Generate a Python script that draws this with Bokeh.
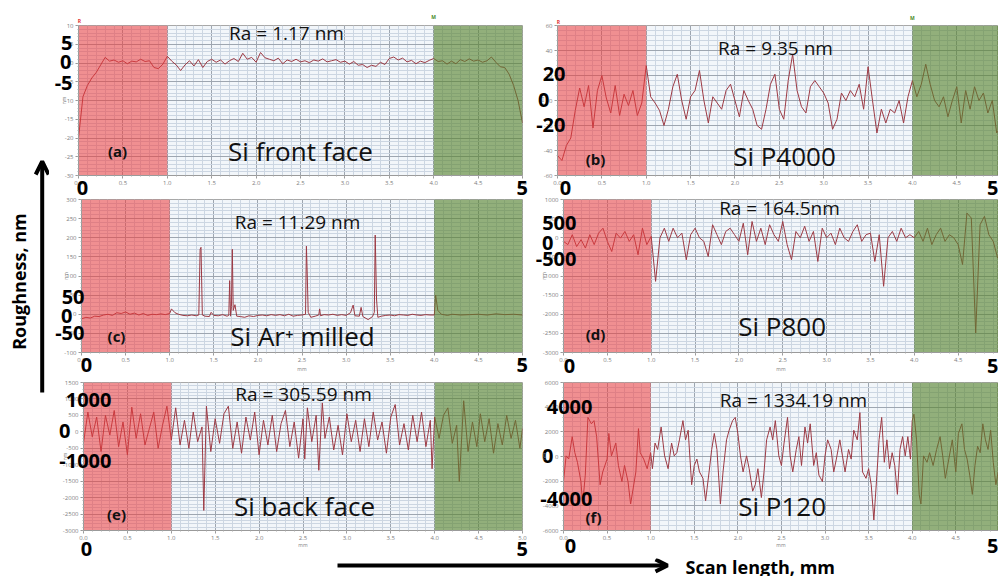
import math
from bokeh.plotting import figure
from bokeh.layouts import column, row
from bokeh.models import (Range1d, Label, LinearAxis, FixedTicker, SingleIntervalTicker,
                          PrintfTickFormatter, Arrow, OpenHead)
from bokeh.embed import file_html
from bokeh.resources import INLINE

# ------------------------------------------------------------------ data
GRID_X = [0.0, 0.05, 0.1, 0.15, 0.2, 0.25, 0.3, 0.35, 0.4, 0.45,
          0.5, 0.55, 0.6, 0.65, 0.7, 0.75, 0.8, 0.85, 0.9, 0.95,
          1.0, 1.05, 1.1, 1.15, 1.2, 1.25, 1.3, 1.35, 1.4, 1.45,
          1.5, 1.55, 1.6, 1.65, 1.7, 1.75, 1.8, 1.85, 1.9, 1.95,
          2.0, 2.05, 2.1, 2.15, 2.2, 2.25, 2.3, 2.35, 2.4, 2.45,
          2.5, 2.55, 2.6, 2.65, 2.7, 2.75, 2.8, 2.85, 2.9, 2.95,
          3.0, 3.05, 3.1, 3.15, 3.2, 3.25, 3.3, 3.35, 3.4, 3.45,
          3.5, 3.55, 3.6, 3.65, 3.7, 3.75, 3.8, 3.85, 3.9, 3.95,
          4.0, 4.05, 4.1, 4.15, 4.2, 4.25, 4.3, 4.35, 4.4, 4.45,
          4.5, 4.55, 4.6, 4.65, 4.7, 4.75, 4.8, 4.85, 4.9, 4.95,
          5.0]

a_y = [-20, -9, -6, -4, -2.5, -0.5, 1.5, 0.5, 0.8, 0.2,
       0.6, -0.2, 0.5, 0.3, 1.0, 0.4, 0.6, -1.2, -1.5, -0.3,
       1.8, 0.5, -0.5, -2.0, -0.5, 0.6, -0.8, 0.9, -1.2, 0.4,
       1.0, 0.2, 0.8, -0.3, 0.6, 1.2, 0.4, 2.6, 1.0, 1.5,
       0.2, 2.8, 1.4, 1.0, 0.6, 1.3, -0.2, 0.8, 0.4, 1.0,
       0.3, 0.6, 0.1, 0.8, 0.5, 1.1, 0.3, 0.6, 0.9, 0.2,
       0.5, -0.3, 0.4, -0.6, -0.4, -1.2, -0.6, -0.9, 0.2, -0.4,
       1.2, 1.6, 0.8, 1.3, 0.3, 0.7, -0.2, 0.5, 0.1, 0.7,
       1.2, 0.4, 0.6, -0.3, 0.5, -0.2, 0.9, 0.4, 1.1, 0.5,
       0.8, 0.2, 0.6, 1.6, 0.2, -1.0, -1.2, -3, -6, -10,
       -16]

b_y = [-44, -48, -36, -30, -8, 10, -5, 12, -22, 8,
       20, 2, -10, 12, -12, 5, -4, 8, -12, -2,
       28, 3, -2, -8, -20, -7, 11, 21, 0, -15,
       3, 8, 24, 0, -18, 3, -2, -7, 8, 13,
       0, -13, 8, 0, -7, -20, -23, -7, 13, 21,
       -7, -15, 16, 37, 8, -5, -10, 11, 16, 11,
       6, -2, -23, -15, 6, 0, 8, 3, 13, -7,
       27, 0, -26, -7, -18, -7, -10, 0, -18, 3,
       16, 3, 13, 29, 13, 0, -5, 3, -13, 0,
       11, -18, 8, -7, 11, 0, 6, -10, 0, -26,
       -20]

c_x = [0.0, 0.05, 0.1, 0.15, 0.2, 0.25, 0.3, 0.35, 0.4, 0.45,
       0.5, 0.55, 0.6, 0.65, 0.7, 0.75, 0.8, 0.85, 0.9, 0.95,
       1.0, 1.02, 1.06, 1.1, 1.15, 1.2, 1.25, 1.3, 1.33, 1.345,
       1.355, 1.37, 1.4, 1.45, 1.47, 1.5, 1.55, 1.6, 1.65, 1.67,
       1.68, 1.69, 1.7, 1.71, 1.72, 1.74, 1.76, 1.8, 1.85, 1.9,
       1.95, 2.0, 2.05, 2.1, 2.15, 2.2, 2.25, 2.3, 2.35, 2.4,
       2.45, 2.5, 2.54, 2.55, 2.56, 2.57, 2.6, 2.65, 2.69, 2.7,
       2.71, 2.75, 2.8, 2.85, 2.9, 2.95, 3.0, 3.05, 3.08, 3.1,
       3.15, 3.17, 3.19, 3.25, 3.3, 3.32, 3.33, 3.345, 3.36, 3.4,
       3.45, 3.5, 3.55, 3.6, 3.65, 3.7, 3.75, 3.8, 3.85, 3.9,
       3.95, 4.0, 4.015, 4.04, 4.08, 4.15, 4.2, 4.3, 4.4, 4.5,
       4.6, 4.7, 4.8, 4.9, 5.0]
c_y = [-12, -8, -10, -5, -6, -2, 0, -3, 4, 2,
       6, 0, 3, -2, 2, -3, 0, -1, 1, -1,
       2, 14, 4, 0, -3, -4, -2, -4, -2, 170,
       175, -2, -5, -6, 5, -3, -4, -1, -5, -3,
       88, -5, 20, 170, 10, 25, -5, -6, -8, -4,
       -6, -3, -2, -4, -1, -3, -1, -4, 0, -5,
       -3, -2, 0, 178, 100, 5, -8, -5, -2, 14,
       -4, -1, -2, 0, -3, -1, -3, 4, 24, -4,
       -5, 18, -6, -14, -6, 5, 207, 40, -8, -5,
       -3, -2, -4, -1, -2, -3, 0, -2, -3, -1,
       -2, -2, 50, 10, 0, -3, 0, -2, -1, 0,
       -2, 1, -1, 0, -2]

d_y = [-95, -180, 80, -230, -50, -270, 80, -180, 120, 250,
       -95, -360, 120, -10, 165, -95, 80, -445, 250, -180,
       35, -1140, 0, 250, -95, 250, 0, 120, -575, 80,
       250, 0, -95, -490, 340, 80, -180, 165, 250, 80,
       -95, 380, -445, 425, -95, 250, -180, 340, 80, -95,
       425, -180, -575, 165, 0, 300, -95, 165, -620, 250,
       0, 120, -180, 250, 0, -95, 165, 340, -95, 80,
       120, -620, 80, -1270, 0, 165, -95, 250, 0, 80,
       0, 165, -95, 250, -180, 80, 250, -95, 80, 0,
       -180, -700, 645, 515, -2490, 340, 560, 80, -95, -530,
       -300]

e_x = [0.0, 0.05, 0.1, 0.15, 0.2, 0.25, 0.3, 0.35, 0.4, 0.45,
       0.5, 0.55, 0.6, 0.65, 0.7, 0.75, 0.8, 0.85, 0.9, 0.95,
       1.0, 1.05, 1.1, 1.15, 1.2, 1.25, 1.3, 1.35, 1.37, 1.4,
       1.45, 1.5, 1.55, 1.6, 1.65, 1.7, 1.75, 1.8, 1.85, 1.9,
       1.95, 2.0, 2.05, 2.1, 2.15, 2.2, 2.25, 2.3, 2.35, 2.4,
       2.45, 2.5, 2.52, 2.55, 2.6, 2.65, 2.68, 2.72, 2.75, 2.8,
       2.85, 2.9, 2.95, 3.0, 3.05, 3.1, 3.15, 3.2, 3.25, 3.3,
       3.35, 3.4, 3.45, 3.5, 3.55, 3.6, 3.65, 3.7, 3.75, 3.8,
       3.85, 3.9, 3.95, 3.97, 4.0, 4.05, 4.1, 4.15, 4.2, 4.25,
       4.28, 4.33, 4.38, 4.43, 4.48, 4.52, 4.57, 4.62, 4.67, 4.72,
       4.77, 4.82, 4.87, 4.92, 4.97, 5.0]
e_y = [-340, 600, -150, 450, -600, 500, -100, 650, -450, 300,
       -700, 750, -200, 550, -400, 100, 600, -500, 200, 780,
       -250, 730, -400, 350, -500, 600, -300, 150, -2390, 780,
       -600, 400, -350, 550, 780, -500, 300, -650, 450, -250,
       600, -700, 350, -400, 500, -600, 250, 650, -450, 300,
       -800, 400, -830, 730, -300, 500, -1170, 880, -200, 450,
       -550, 200, -700, 550, -300, 350, -600, 400, -450, 600,
       -250, 300, -650, 450, 830, -400, 250, -550, 500, -300,
       600, -450, 350, -1120, 450, -200, 500, 730, -350, 200,
       -1510, 945, -600, 300, -450, 550, -300, 400, -650, 250,
       -400, 500, -200, 350, -500, 100]

f_x = [0.0, 0.03, 0.06, 0.1, 0.13, 0.16, 0.2, 0.22, 0.25, 0.28,
       0.32, 0.35, 0.38, 0.42, 0.45, 0.5, 0.52, 0.55, 0.6, 0.63,
       0.67, 0.7, 0.74, 0.77, 0.8, 0.83, 0.86, 0.88, 0.92, 0.96,
       1.0, 1.02, 1.05, 1.08, 1.12, 1.16, 1.2, 1.24, 1.27, 1.3,
       1.33, 1.37, 1.4, 1.43, 1.47, 1.5, 1.53, 1.56, 1.6, 1.63,
       1.67, 1.7, 1.73, 1.76, 1.8, 1.83, 1.87, 1.9, 1.94, 1.97,
       2.0, 2.03, 2.06, 2.1, 2.13, 2.17, 2.2, 2.23, 2.27, 2.3,
       2.33, 2.37, 2.4, 2.43, 2.47, 2.5, 2.53, 2.57, 2.6, 2.63,
       2.67, 2.7, 2.73, 2.77, 2.8, 2.83, 2.87, 2.9, 2.93, 2.97,
       3.0, 3.03, 3.07, 3.1, 3.13, 3.17, 3.2, 3.23, 3.27, 3.3,
       3.33, 3.37, 3.4, 3.43, 3.47, 3.5, 3.53, 3.56, 3.59, 3.62,
       3.65, 3.68, 3.71, 3.74, 3.77, 3.8, 3.83, 3.86, 3.89, 3.92,
       3.95, 3.98, 4.0, 4.02, 4.05, 4.08, 4.1, 4.13, 4.17, 4.2,
       4.24, 4.28, 4.32, 4.35, 4.38, 4.42, 4.46, 4.5, 4.53, 4.57,
       4.6, 4.63, 4.66, 4.69, 4.72, 4.75, 4.78, 4.81, 4.84, 4.87,
       4.9, 4.93, 4.96, 5.0]
f_y = [-2030, 50, -200, 1610, 310, -470, -2030, -3850, -1510, 3170,
       2650, 2910, 1610, -2290, -1250, -210, 1870, 50, 1090, -730,
       -2030, -730, -2030, -3850, -2550, -1250, 2260, 310, -210, -990,
       310, -990, 1090, 570, 2390, 50, -990, 1090, 50, 310,
       1350, 2910, 1350, 2130, -2290, -730, -210, -1250, -1770, -3590,
       -1250, 570, 1870, 570, -3850, -1250, 1350, 2130, 2910, 3170,
       1870, 50, -1250, 50, -990, -2810, -2290, -990, -3330, -1250,
       1350, 2390, 1350, 2910, 50, -730, 1090, 3170, 50, -1250,
       570, 1610, -730, 2390, 1090, 2650, -730, 310, -1510, -2030,
       50, 1350, 570, -1250, -210, 1350, 50, -1250, 570, -210,
       2130, 1350, 3560, -1250, -1770, -990, -2290, -5150, -2030, 1350,
       3170, -470, 1350, -990, 310, -730, -3070, 570, 1610, 50,
       1610, -210, 2910, 3430, 1350, -3070, -3850, 50, -470, 310,
       -730, 570, 1610, 50, -1770, -210, 1350, -1250, 1870, 2650,
       570, -210, -1510, -3070, -730, 830, 310, 2650, 1350, 570,
       2130, -470, -2290, -730]

series_x = [GRID_X, GRID_X, c_x, GRID_X, e_x, f_x]
series_y = [a_y, b_y, c_y, d_y, e_y, f_y]

ra_texts = ["Ra = 1.17 nm", "Ra = 9.35 nm", "Ra = 11.29 nm",
            "Ra = 164.5nm", "Ra = 305.59 nm", "Ra = 1334.19 nm"]
sample_names = ["Si front face", "Si P4000", "Si Ar\u207a milled",
                "Si  P800", "Si back face", "Si  P120"]
panel_tags = ["(a)", "(b)", "(c)", "(d)", "(e)", "(f)"]
y_limits = [(-30, 10), (-60, 60), (-100, 300), (-3000, 1000), (-3000, 1500), (-6000, 6000)]
y_steps = [5, 20, 50, 500, 500, 2000]
big_y_labels = [["5", "0", "-5"], ["20", "0", "-20"], ["50", "0", "-50"],
                ["500", "0", "-500"], ["1000", "0", "-1000"], ["4000", "0", "-4000"]]
big_x_labels = ["0", "5"]
ref_region = (0.0, 1.0)
eval_region = (4.0, 5.0)
y_title = "Roughness, nm"
x_title = "Scan length, mm"

# ------------------------------------------------------------------ layout (page pixels)
STRIP_W = 49
COL_X = 530
BOT_Y = 558
PANELS = [
    dict(ox=STRIP_W, oy=0,   w=COL_X - STRIP_W, h=197, fl=78,  fr=522, bt=25, bb=20, xmax=5.0),
    dict(ox=COL_X,   oy=0,   w=998 - COL_X,     h=197, fl=557, fr=998, bt=24, bb=20, xmax=4.97),
    dict(ox=STRIP_W, oy=197, w=COL_X - STRIP_W, h=179, fl=81,  fr=522, bt=2,  bb=24, xmax=5.0),
    dict(ox=COL_X,   oy=197, w=998 - COL_X,     h=179, fl=563, fr=998, bt=1,  bb=24, xmax=4.96),
    dict(ox=STRIP_W, oy=376, w=COL_X - STRIP_W, h=BOT_Y - 376, fl=83,  fr=522, bt=6, bb=BOT_Y - 536, xmax=5.0),
    dict(ox=COL_X,   oy=376, w=998 - COL_X,     h=BOT_Y - 376, fl=563, fr=998, bt=6, bb=BOT_Y - 536, xmax=4.99),
]
big_y_pos = [[(65.5, 43), (65, 62), (62.5, 83)], [(549, 73), (542.5, 100), (552, 125)],
             [(69, 296), (65, 315), (64, 332)], [(555, 222), (550, 242), (553.5, 258)],
             [(87, 400), (64, 432), (85, 464)], [(566, 408), (550, 458), (569, 503)]]
big_x_cx = [(82, 526), (565, 996), (86, 526), (569, 996), (86, 526), (570, 996)]
big_x_standoff = [-7, -7, -17, -16, -1, -4]
mm_standoff = [None, None, None, None, -17, -14]
nm_cx = [63, 541, 64, 542, 64, 542]
ra_pos = [(286, 33), (775, 47), (297, 221), (779, 207), (303, 394), (793, 400)]
name_pos = [(300, 152), (784, 157), (302, 335), (785, 325), (304, 510), (785, 510)]
tag_pos = [(117, 152), (595, 160), (116, 335), (595, 333), (116, 519), (593, 522)]

FONT = "Open Sans"
LINE_COLOR = "#9c3a44"
ASC, DESC = 1.069, 0.293
PAD = 3
CHAR_W = {c: 0.572 for c in "0123456789"}
CHAR_W["-"] = 0.322


def est_w(txt, size):
    return sum(CHAR_W.get(c, 0.55) for c in txt) * size


class Panel:
    def __init__(self, spec, ylim):
        self.__dict__.update(spec)
        self.y0, self.y1 = ylim
        self.bl = self.fl - self.ox
        self.br = self.ox + self.w - self.fr
        self.ft = self.oy + self.bt
        self.fb = self.oy + self.h - self.bb

    def dx(self, px):
        return round((px - self.fl) / (self.fr - self.fl) * self.xmax, 5)

    def dy(self, py):
        return round(self.y0 + (self.fb - py) / (self.fb - self.ft) * (self.y1 - self.y0), 5)


def mk_axis(ticks=(), overrides=None, standoff=0, size=20, bold=True, color="black",
            axis_label=None, al_standoff=0, al_size=5, al_color="#808080"):
    kw = dict(ticker=FixedTicker(ticks=list(ticks), minor_ticks=[]),
              axis_line_color=None,
              major_tick_line_color=None, minor_tick_line_color=None,
              major_tick_out=0, major_tick_in=0, minor_tick_out=0, minor_tick_in=0,
              major_label_standoff=int(round(standoff)),
              major_label_text_font=FONT, major_label_text_font_size=f"{size}px",
              major_label_text_font_style="bold" if bold else "normal",
              major_label_text_color=color)
    if overrides:
        kw["major_label_overrides"] = overrides
    if axis_label:
        kw.update(axis_label=axis_label, axis_label_standoff=int(round(al_standoff)),
                  axis_label_text_font=FONT, axis_label_text_font_size=f"{al_size}px",
                  axis_label_text_font_style="normal", axis_label_text_color=al_color)
    return LinearAxis(**kw)


def add_label(P, fig, px, py, text, size, bold=False):
    fig.add_layout(Label(x=P.dx(px), y=P.dy(py), text=text, text_font=FONT,
                         text_font_size=f"{size}px",
                         text_font_style="bold" if bold else "normal",
                         text_align="center", text_baseline="middle", text_color="#111111"))


def small_label_width(i):
    y0, y1 = y_limits[i]
    return max(est_w(str(v), 6) for v in range(int(y0), int(y1) + 1, y_steps[i]))


figs = []
for i, spec in enumerate(PANELS):
    P = Panel(spec, y_limits[i])
    y0, y1 = y_limits[i]
    p = figure(width=P.w, height=P.h, x_range=Range1d(0, P.xmax), y_range=Range1d(y0, y1),
               toolbar_location=None, output_backend="svg", min_border=0,
               min_border_left=P.bl, min_border_right=P.br,
               min_border_top=P.bt, min_border_bottom=P.bb)
    p.background_fill_color = "#f2f6fa"
    p.border_fill_color = "white"
    p.outline_line_color = "#a8a8a8"

    xt = SingleIntervalTicker(interval=0.5, num_minor_ticks=5)
    yt = SingleIntervalTicker(interval=y_steps[i], num_minor_ticks=5)
    p.xaxis.ticker = xt
    p.yaxis.ticker = yt
    p.xgrid.ticker = xt
    p.ygrid.ticker = yt
    p.xaxis.formatter = PrintfTickFormatter(format="%.1f")
    p.yaxis.formatter = PrintfTickFormatter(format="%d")
    for ax in (p.xaxis[0], p.yaxis[0]):
        ax.major_label_text_font_size = "6px"
        ax.major_label_text_color = "#808080"
        ax.major_label_text_font = FONT
        ax.axis_line_color = "#9a9a9a"
        ax.major_tick_line_color = "#9a9a9a"
        ax.minor_tick_line_color = "#b0b0b0"
        ax.major_tick_out = 3
        ax.major_tick_in = 0
        ax.minor_tick_out = 1
        ax.minor_tick_in = 0
        ax.major_label_standoff = 2
    if i in (2, 3):
        p.xaxis.axis_label = "mm"
        p.xaxis.axis_label_standoff = 1
        p.xaxis.axis_label_text_font = FONT
        p.xaxis.axis_label_text_font_size = "5px"
        p.xaxis.axis_label_text_font_style = "normal"
        p.xaxis.axis_label_text_color = "#808080"
    for g in (p.xgrid[0], p.ygrid[0]):
        g.grid_line_color = "#9ea6b0"
        g.grid_line_width = 1
        g.minor_grid_line_color = "#ccd6e2"
        g.minor_grid_line_width = 1

    p.line(series_x[i], series_y[i], line_color=LINE_COLOR, line_width=1)
    p.quad(left=[ref_region[0]], right=[ref_region[1]], bottom=[y0], top=[y1],
           fill_color="#ee3b3b", fill_alpha=0.55, line_color=None)
    p.quad(left=[eval_region[0]], right=[eval_region[1]], bottom=[y0], top=[y1],
           fill_color="#57832d", fill_alpha=0.62, line_color=None)

    add_label(P, p, *ra_pos[i], ra_texts[i], 19)
    add_label(P, p, *name_pos[i], sample_names[i], 26)
    add_label(P, p, *tag_pos[i], panel_tags[i], 15, bold=True)

    # ---------------- left side: tiny 'nm' + big bold value labels (as tick labels)
    x = P.fl - (3 + 2 + small_label_width(i) + PAD)
    (t_txt, t_c), (z_txt, z_c), (b_txt, b_c) = zip(big_y_labels[i], big_y_pos[i])
    w_z = est_w(z_txt, 20)
    w_nz = max(est_w(t_txt, 20), est_w(b_txt, 20))
    r_nz = ((t_c[0] + est_w(t_txt, 20) / 2) + (b_c[0] + est_w(b_txt, 20) / 2)) / 2
    h_nm = 5 * (ASC + DESC)
    elems = [
        ("zero", z_c[0] - w_z / 2, z_c[0] + w_z / 2, w_z),
        ("nz", r_nz - w_nz, r_nz, w_nz),
        ("nm", nm_cx[i] - h_nm / 2, nm_cx[i] + h_nm / 2, h_nm),
    ]
    elems.sort(key=lambda e: -e[1])
    min_x = P.ox + 0.5
    for kind, left, right, w in elems:
        so = round(x - right)
        if so + w + PAD < 0:
            so = math.ceil(-(w + PAD))
        if x - (so + w + PAD) < min_x:
            so = math.floor(x - min_x - w - PAD)
        if kind == "zero":
            t = P.dy(z_c[1])
            p.add_layout(mk_axis([t], {t: z_txt}, standoff=so), "left")
        elif kind == "nz":
            ta, tb = P.dy(t_c[1]), P.dy(b_c[1])
            p.add_layout(mk_axis([ta, tb], {ta: t_txt, tb: b_txt}, standoff=so), "left")
        else:
            p.add_layout(mk_axis(axis_label="nm", al_standoff=so), "left")
        x = x - (so + w + PAD)

    # ---------------- below side: big 0 / 5 (and 'mm' for the bottom row)
    tx0 = max(0.0005, min(P.dx(big_x_cx[i][0]), P.xmax - 0.003))
    tx5 = min(P.dx(big_x_cx[i][1]), P.xmax - 0.003)
    p.add_layout(mk_axis([tx0, tx5], {tx0: big_x_labels[0], tx5: big_x_labels[1]},
                         standoff=big_x_standoff[i]), "below")
    if mm_standoff[i] is not None:
        p.add_layout(mk_axis(axis_label="mm", al_standoff=mm_standoff[i]), "below")

    # ---------------- above side: instrument markers
    if i in (0, 1):
        yy = P.ft
        hr = 5 * (ASC + DESC)
        for txt, px, cy, col in (("R", P.fl + 1, 20, "#e03030"),
                                 ("M", P.fl + 4.0 / P.xmax * (P.fr - P.fl), 15, "#4a8a2a")):
            tm = P.dx(px)
            so = round(yy - (cy + hr / 2))
            p.add_layout(mk_axis([tm], {tm: txt}, standoff=so, size=5, color=col), "above")
            yy = yy - (so + hr + PAD)

    figs.append(p)


def bare_figure(w, h, xr, yr):
    f = figure(width=w, height=h, x_range=Range1d(*xr), y_range=Range1d(*yr),
               toolbar_location=None, output_backend="svg", min_border=0,
               x_axis_location=None, y_axis_location=None, outline_line_color=None)
    f.xgrid.visible = False
    f.ygrid.visible = False
    f.background_fill_color = "white"
    f.border_fill_color = "white"
    return f


# ---------------- left strip: y-axis title with its arrow
strip = bare_figure(STRIP_W, 576, (0, STRIP_W), (576, 0))
strip.add_layout(Arrow(end=OpenHead(size=13, line_width=4, line_color="black"),
                       x_start=41.7, y_start=392, x_end=41.7, y_end=161,
                       line_width=4, line_color="black"))
strip.add_layout(Label(x=18, y=281, text=y_title, angle=math.pi / 2, text_font=FONT,
                       text_font_size="18px", text_font_style="bold",
                       text_align="center", text_baseline="middle", text_color="black"))

# ---------------- bottom strip: x-axis title with its arrow
bottom = bare_figure(998 - STRIP_W, 576 - BOT_Y, (STRIP_W, 998), (576, BOT_Y))
bottom.add_layout(Arrow(end=OpenHead(size=12, line_width=4, line_color="black"),
                        x_start=337, y_start=565, x_end=667, y_end=565,
                        line_width=4, line_color="black"))
bottom.add_layout(Label(x=685, y=566, text=x_title, text_font=FONT,
                        text_font_size="18px", text_font_style="bold",
                        text_align="left", text_baseline="middle", text_color="black"))

layout = row(strip, column(row(figs[0], figs[1]), row(figs[2], figs[3]),
                           row(figs[4], figs[5]), bottom))
open("out.html", "w").write(file_html(layout, INLINE))
